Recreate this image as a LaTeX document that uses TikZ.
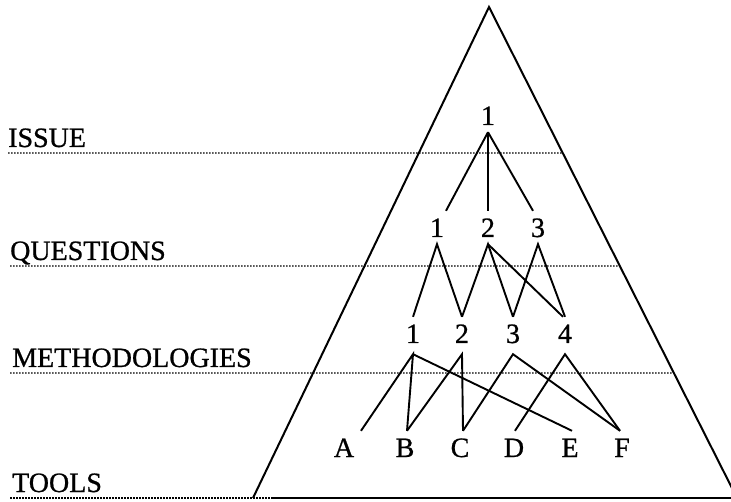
\documentclass[tikz,border=0pt]{standalone}
\usepackage{fontspec}
\setmainfont[FakeBold=0.8,AutoFakeBold=0.8]{Liberation Serif}
\usetikzlibrary{calc}
\newcommand{\labfont}{\fontsize{28}{30}\selectfont\bfseries}
\tikzset{
  lab/.style={font=\labfont, inner xsep=0pt, inner ysep=7pt, text height=19pt, text depth=0pt, anchor=base},
  mlab/.style={lab, text depth=4pt},
  lvl/.style={font=\labfont, inner sep=0pt, anchor=base west},
  edge/.style={line width=1.9pt},
  tri/.style={line width=2pt, line join=miter},
  dotline/.style={line width=1.3pt, dash pattern=on 1.5pt off 1.5pt},
}
\begin{document}
\begin{tikzpicture}[x=1pt, y=-1pt]
\clip (0,0) rectangle (731,502);
\fill[white] (0,0) rectangle (731,502);
% triangle
\coordinate (apex) at (489,7);
\coordinate (bl) at (253,498);
\coordinate (br) at (737,498);
\coordinate (bs) at (272,498);
\draw[tri] (bl) -- (apex) -- (br);
\draw[tri] (bs) -- (br);
% level labels
\node[lvl] (issue) at (8,147) {ISSUE};
\node[lvl] (quest) at (10,260) {QUESTIONS};
\node[lvl] (meth) at (12,367) {METHODOLOGIES};
\node[lvl] (tools) at (12,492) {TOOLS};
% level lines
\coordinate (li) at (8,153);
\coordinate (lq) at (10,266);
\coordinate (lm) at (10,373);
\coordinate (lt) at (10,498);
\coordinate (ri) at ($(apex)!0.2974!(br)$);
\coordinate (rq) at ($(apex)!0.5275!(br)$);
\coordinate (rm) at ($(apex)!0.7454!(br)$);
\draw[dotline] (li) -- (ri);
\draw[dotline] (lq) -- (rq);
\draw[dotline] (lm) -- (rm);
\draw[dotline] (lt) -- (bs);
% nodes
\node[lab] (t) at (488,125) {1};
\node[lab] (q1) at (437,237) {1};
\node[lab] (q2) at (488,237) {2};
\node[lab] (q3) at (538,237) {3};
\node[mlab] (m1) at (413,343) {1};
\node[mlab] (m2) at (462,343) {2};
\node[mlab] (m3) at (513,343) {3};
\node[mlab] (m4) at (565,343) {4};
\node[lab] (A) at (344,457) {A};
\node[lab] (B) at (405,457) {B};
\node[lab] (C) at (460,457) {C};
\node[lab] (D) at (514,457) {D};
\node[lab] (E) at (570,457) {E};
\node[lab] (F) at (622,457) {F};
% issue -> questions
\draw[edge] (t.south) -- ([xshift=9pt]q1.north);
\draw[edge] (t.south) -- (q2.north);
\draw[edge] (t.south) -- ([xshift=-5pt]q3.north);
% questions -> methodologies
\draw[edge] (m1.north) -- (q1.south) -- (m2.north);
\draw[edge] (m2.north) -- (q2.south) -- (m3.north);
\draw[edge] (q2.south) -- ([xshift=-2pt]m4.north);
\draw[edge] (m3.north) -- (q3.south) -- (m4.north);
% methodologies -> tools
\draw[edge] ([xshift=17pt]A.north) -- (m1.south) -- ([xshift=2pt]B.north);
\draw[edge] (m1.south) -- ([xshift=2pt]E.north);
\draw[edge] ([xshift=2pt]B.north) -- (m2.south) -- ([xshift=3pt]C.north);
\draw[edge] ([xshift=3pt]C.north) -- (m3.south) -- ([xshift=-2pt]F.north);
\draw[edge] ([xshift=1pt]D.north) -- (m4.south) -- ([xshift=-2pt]F.north);
\end{tikzpicture}
\end{document}
